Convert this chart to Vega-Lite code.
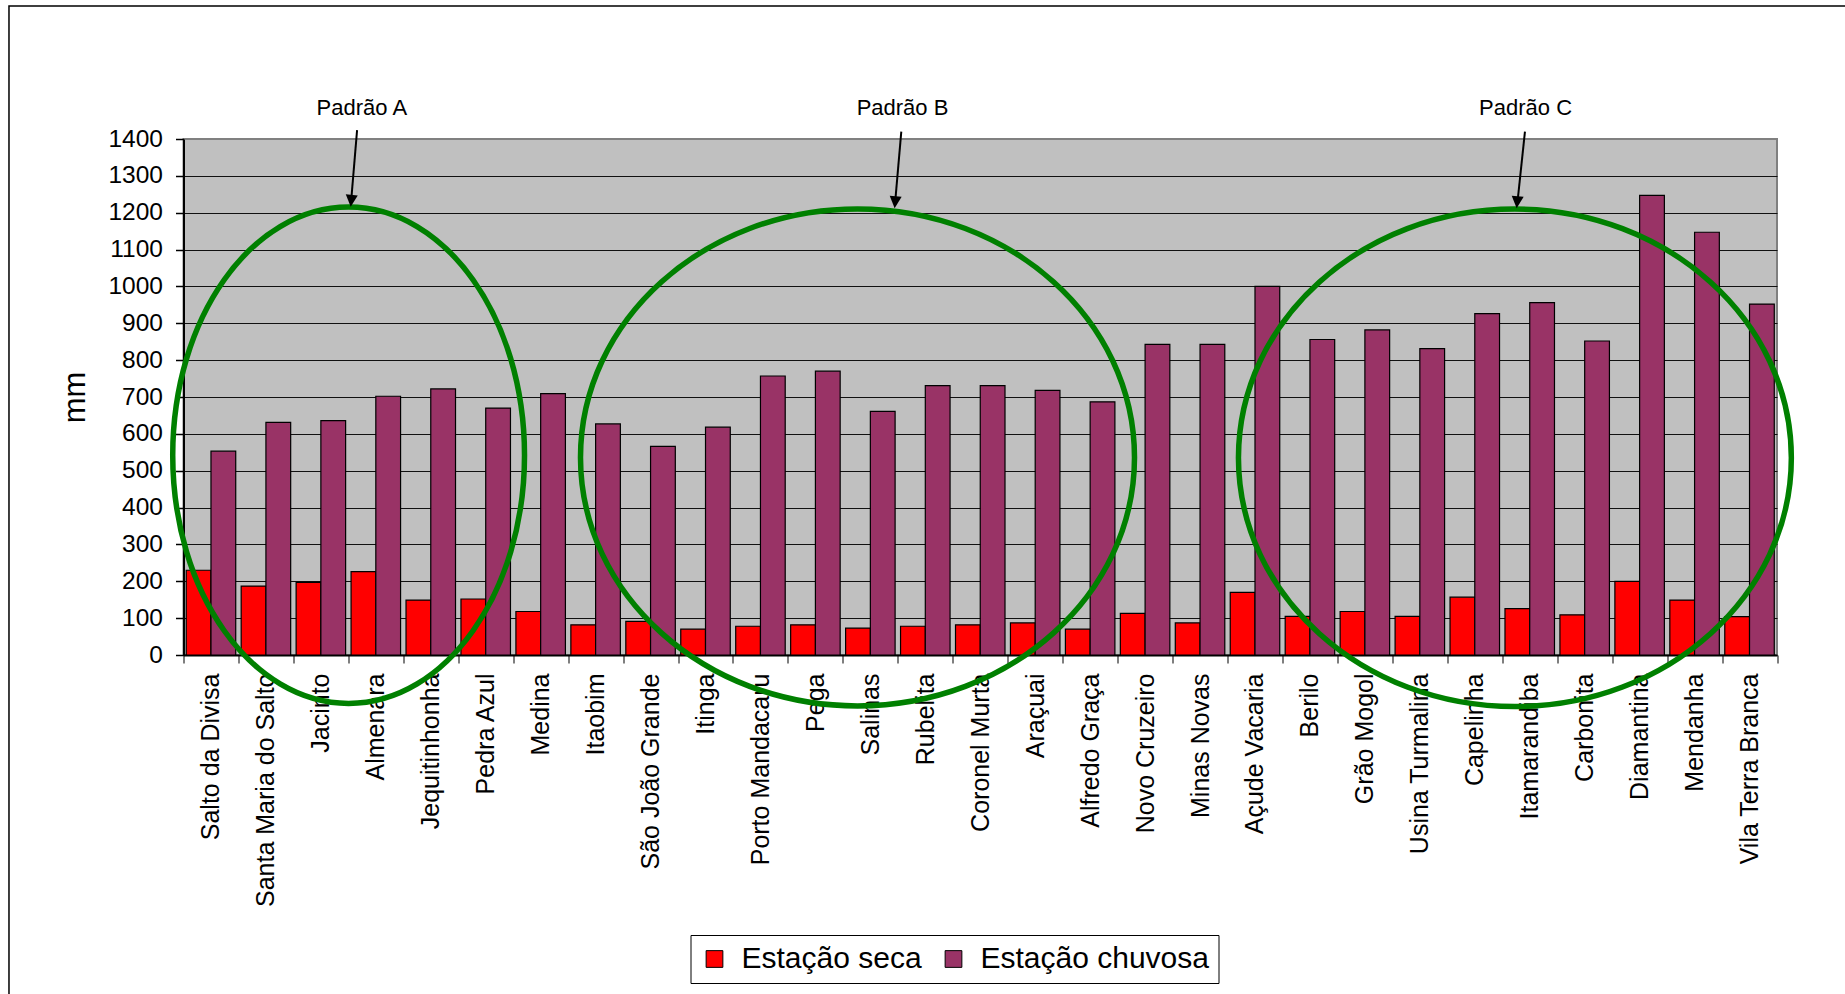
{
  "$schema": "https://vega.github.io/schema/vega-lite/v6.json",
  "width": 1593.5,
  "height": 516,
  "autosize": {"type": "none"},
  "padding": {"left": 183.5, "top": 139, "right": 68, "bottom": 339},
  "background": "white",
  "config": {
    "font": "Liberation Sans",
    "view": {"fill": "#C0C0C0", "stroke": "#808080", "strokeWidth": 2}
  },
  "resolve": {"scale": {"x": "independent"}, "axis": {"x": "independent"}},
  "encoding": {
    "y": {
      "field": "mm", "type": "quantitative",
      "scale": {"domain": [0, 1400], "nice": false},
      "axis": {
        "title": "mm", "titleFontSize": 31, "titleFontWeight": "normal", "titleColor": "black",
        "titlePadding": 16, "titleFont": "Liberation Sans",
        "values": [0, 100, 200, 300, 400, 500, 600, 700, 800, 900, 1000, 1100, 1200, 1300, 1400],
        "tickCount": 30,
        "format": "d", "labelOverlap": false, "labelFlush": false,
        "labelFontSize": 24.5, "labelColor": "black", "labelPadding": 13, "labelFont": "Liberation Sans",
        "tickSize": 8, "tickColor": "black", "tickWidth": 1.5,
        "domainColor": "black", "domainWidth": 2,
        "grid": true, "gridWidth": 1,
        "gridColor": {"condition": {"test": "datum.value === 1400", "value": "#808080"}, "value": "#111111"}
      }
    }
  },
  "layer": [
    {
      "data": {"values": [
        {"estacao": "Salto da Divisa", "periodo": "Estação seca", "mm": 230},
        {"estacao": "Salto da Divisa", "periodo": "Estação chuvosa", "mm": 553},
        {"estacao": "Santa Maria do Salto", "periodo": "Estação seca", "mm": 187},
        {"estacao": "Santa Maria do Salto", "periodo": "Estação chuvosa", "mm": 631},
        {"estacao": "Jacinto", "periodo": "Estação seca", "mm": 197},
        {"estacao": "Jacinto", "periodo": "Estação chuvosa", "mm": 636},
        {"estacao": "Almenara", "periodo": "Estação seca", "mm": 226},
        {"estacao": "Almenara", "periodo": "Estação chuvosa", "mm": 702},
        {"estacao": "Jequitinhonha", "periodo": "Estação seca", "mm": 149},
        {"estacao": "Jequitinhonha", "periodo": "Estação chuvosa", "mm": 722},
        {"estacao": "Pedra Azul", "periodo": "Estação seca", "mm": 152},
        {"estacao": "Pedra Azul", "periodo": "Estação chuvosa", "mm": 670},
        {"estacao": "Medina", "periodo": "Estação seca", "mm": 118},
        {"estacao": "Medina", "periodo": "Estação chuvosa", "mm": 709},
        {"estacao": "Itaobim", "periodo": "Estação seca", "mm": 82},
        {"estacao": "Itaobim", "periodo": "Estação chuvosa", "mm": 627},
        {"estacao": "São João Grande", "periodo": "Estação seca", "mm": 91},
        {"estacao": "São João Grande", "periodo": "Estação chuvosa", "mm": 566},
        {"estacao": "Itinga", "periodo": "Estação seca", "mm": 70},
        {"estacao": "Itinga", "periodo": "Estação chuvosa", "mm": 618},
        {"estacao": "Porto Mandacaru", "periodo": "Estação seca", "mm": 78},
        {"estacao": "Porto Mandacaru", "periodo": "Estação chuvosa", "mm": 757},
        {"estacao": "Pega", "periodo": "Estação seca", "mm": 82},
        {"estacao": "Pega", "periodo": "Estação chuvosa", "mm": 770},
        {"estacao": "Salinas", "periodo": "Estação seca", "mm": 73},
        {"estacao": "Salinas", "periodo": "Estação chuvosa", "mm": 661},
        {"estacao": "Rubelita", "periodo": "Estação seca", "mm": 78},
        {"estacao": "Rubelita", "periodo": "Estação chuvosa", "mm": 731},
        {"estacao": "Coronel Murta", "periodo": "Estação seca", "mm": 82},
        {"estacao": "Coronel Murta", "periodo": "Estação chuvosa", "mm": 731},
        {"estacao": "Araçuai", "periodo": "Estação seca", "mm": 87},
        {"estacao": "Araçuai", "periodo": "Estação chuvosa", "mm": 718},
        {"estacao": "Alfredo Graça", "periodo": "Estação seca", "mm": 70},
        {"estacao": "Alfredo Graça", "periodo": "Estação chuvosa", "mm": 687},
        {"estacao": "Novo Cruzeiro", "periodo": "Estação seca", "mm": 113},
        {"estacao": "Novo Cruzeiro", "periodo": "Estação chuvosa", "mm": 843},
        {"estacao": "Minas Novas", "periodo": "Estação seca", "mm": 87},
        {"estacao": "Minas Novas", "periodo": "Estação chuvosa", "mm": 843},
        {"estacao": "Açude Vacaria", "periodo": "Estação seca", "mm": 170},
        {"estacao": "Açude Vacaria", "periodo": "Estação chuvosa", "mm": 1000},
        {"estacao": "Berilo", "periodo": "Estação seca", "mm": 105},
        {"estacao": "Berilo", "periodo": "Estação chuvosa", "mm": 856},
        {"estacao": "Grão Mogol", "periodo": "Estação seca", "mm": 118},
        {"estacao": "Grão Mogol", "periodo": "Estação chuvosa", "mm": 882},
        {"estacao": "Usina Turmalina", "periodo": "Estação seca", "mm": 105},
        {"estacao": "Usina Turmalina", "periodo": "Estação chuvosa", "mm": 831},
        {"estacao": "Capelinha", "periodo": "Estação seca", "mm": 157},
        {"estacao": "Capelinha", "periodo": "Estação chuvosa", "mm": 926},
        {"estacao": "Itamarandiba", "periodo": "Estação seca", "mm": 126},
        {"estacao": "Itamarandiba", "periodo": "Estação chuvosa", "mm": 956},
        {"estacao": "Carbonita", "periodo": "Estação seca", "mm": 109},
        {"estacao": "Carbonita", "periodo": "Estação chuvosa", "mm": 852},
        {"estacao": "Diamantina", "periodo": "Estação seca", "mm": 200},
        {"estacao": "Diamantina", "periodo": "Estação chuvosa", "mm": 1247},
        {"estacao": "Mendanha", "periodo": "Estação seca", "mm": 149},
        {"estacao": "Mendanha", "periodo": "Estação chuvosa", "mm": 1147},
        {"estacao": "Vila Terra Branca", "periodo": "Estação seca", "mm": 104},
        {"estacao": "Vila Terra Branca", "periodo": "Estação chuvosa", "mm": 952}
      ]},
      "mark": {"type": "bar", "stroke": "black", "strokeWidth": 1.2},
      "encoding": {
        "x": {
          "field": "estacao", "type": "nominal", "sort": null,
          "scale": {"paddingInner": 0, "paddingOuter": 0},
          "axis": {
            "title": null, "labelAngle": -90, "labelFontSize": 25, "labelColor": "black",
            "labelPadding": 10, "labelLimit": 0, "tickSize": 8, "tickBand": "extent",
            "tickColor": "#555555", "tickWidth": 1.5, "domainColor": "black", "domainWidth": 2,
            "grid": false, "labelFont": "Liberation Sans"
          }
        },
        "xOffset": {
          "field": "periodo", "type": "nominal", "sort": ["Estação seca", "Estação chuvosa"],
          "scale": {"paddingInner": 0, "paddingOuter": 0.11}
        },
        "color": {
          "field": "periodo", "type": "nominal", "sort": ["Estação seca", "Estação chuvosa"],
          "scale": {"domain": ["Estação seca", "Estação chuvosa"], "range": ["#FF0000", "#993366"]},
          "legend": {
            "orient": "none", "legendX": 507, "legendY": 796, "direction": "horizontal",
            "title": null, "symbolType": "square", "symbolSize": 280,
            "symbolStrokeColor": "black", "symbolStrokeWidth": 1, "symbolOpacity": 1,
            "labelFontSize": 30, "labelColor": "black", "labelFont": "Liberation Sans", "labelLimit": 0,
            "labelOffset": 12, "columnPadding": 16,
            "strokeColor": "black", "fillColor": "white", "padding": 9
          }
        }
      }
    },
    {
      "data": {"values": [{"u": -3.176, "u2": 40, "mm": 1761, "mm2": -1500}]},
      "mark": {"type": "rect", "fill": null, "stroke": "black", "strokeWidth": 1.5, "clip": false},
      "encoding": {
        "x": {"field": "u", "type": "quantitative", "scale": {"domain": [0, 29], "nice": false, "zero": false}, "axis": null},
        "x2": {"field": "u2"},
        "y2": {"field": "mm2"}
      }
    },
    {
      "data": {"values": [
        {"padrao": "A", "u": 3.005, "mm": 542},
        {"padrao": "B", "u": 12.266, "mm": 536},
        {"padrao": "C", "u": 24.23, "mm": 535}
      ]},
      "mark": {"type": "point", "filled": false, "stroke": "#008000", "strokeWidth": 5.5, "size": 306916, "opacity": 1},
      "encoding": {
        "x": {"field": "u", "type": "quantitative", "scale": {"domain": [0, 29], "nice": false, "zero": false}, "axis": null},
        "shape": {
          "field": "padrao", "type": "nominal", "legend": null,
          "scale": {
            "domain": ["A", "B", "C"],
            "range": [
              "M -0.635 0 A 0.635 0.896 0 1 0 0.635 0 A 0.635 0.896 0 1 0 -0.635 0 Z",
              "M -1 0 A 1 0.897 0 1 0 1 0 A 1 0.897 0 1 0 -1 0 Z",
              "M -0.998 0 A 0.998 0.898 0 1 0 0.998 0 A 0.998 0.898 0 1 0 -0.998 0 Z"
            ]
          }
        }
      }
    },
    {
      "data": {"values": [
        {"padrao": "A", "u": 3.159, "mm": 1424, "u2": 3.05, "mm2": 1230},
        {"padrao": "B", "u": 13.063, "mm": 1420, "u2": 12.95, "mm2": 1226},
        {"padrao": "C", "u": 24.413, "mm": 1420, "u2": 24.275, "mm2": 1226}
      ]},
      "mark": {"type": "rule", "stroke": "black", "strokeWidth": 2},
      "encoding": {
        "x": {"field": "u", "type": "quantitative", "scale": {"domain": [0, 29], "nice": false, "zero": false}, "axis": null},
        "x2": {"field": "u2"},
        "y2": {"field": "mm2"}
      }
    },
    {
      "data": {"values": [
        {"padrao": "A", "u": 3.043, "mm": 1216},
        {"padrao": "B", "u": 12.942, "mm": 1212},
        {"padrao": "C", "u": 24.262, "mm": 1212}
      ]},
      "mark": {"type": "point", "filled": true, "fill": "black", "stroke": null, "opacity": 1, "size": 576, "angle": 5,
               "shape": "M -0.5 -1 L 0.5 -1 L 0 0 Z"},
      "encoding": {
        "x": {"field": "u", "type": "quantitative", "scale": {"domain": [0, 29], "nice": false, "zero": false}, "axis": null}
      }
    },
    {
      "data": {"values": [
        {"rotulo": "Padrão A", "u": 3.245, "mm": 1465},
        {"rotulo": "Padrão B", "u": 13.085, "mm": 1465},
        {"rotulo": "Padrão C", "u": 24.424, "mm": 1465}
      ]},
      "mark": {"type": "text", "fontSize": 22, "font": "Liberation Sans", "color": "black", "align": "center", "baseline": "alphabetic"},
      "encoding": {
        "x": {"field": "u", "type": "quantitative", "scale": {"domain": [0, 29], "nice": false, "zero": false}, "axis": null},
        "text": {"field": "rotulo", "type": "nominal"}
      }
    }
  ]
}
